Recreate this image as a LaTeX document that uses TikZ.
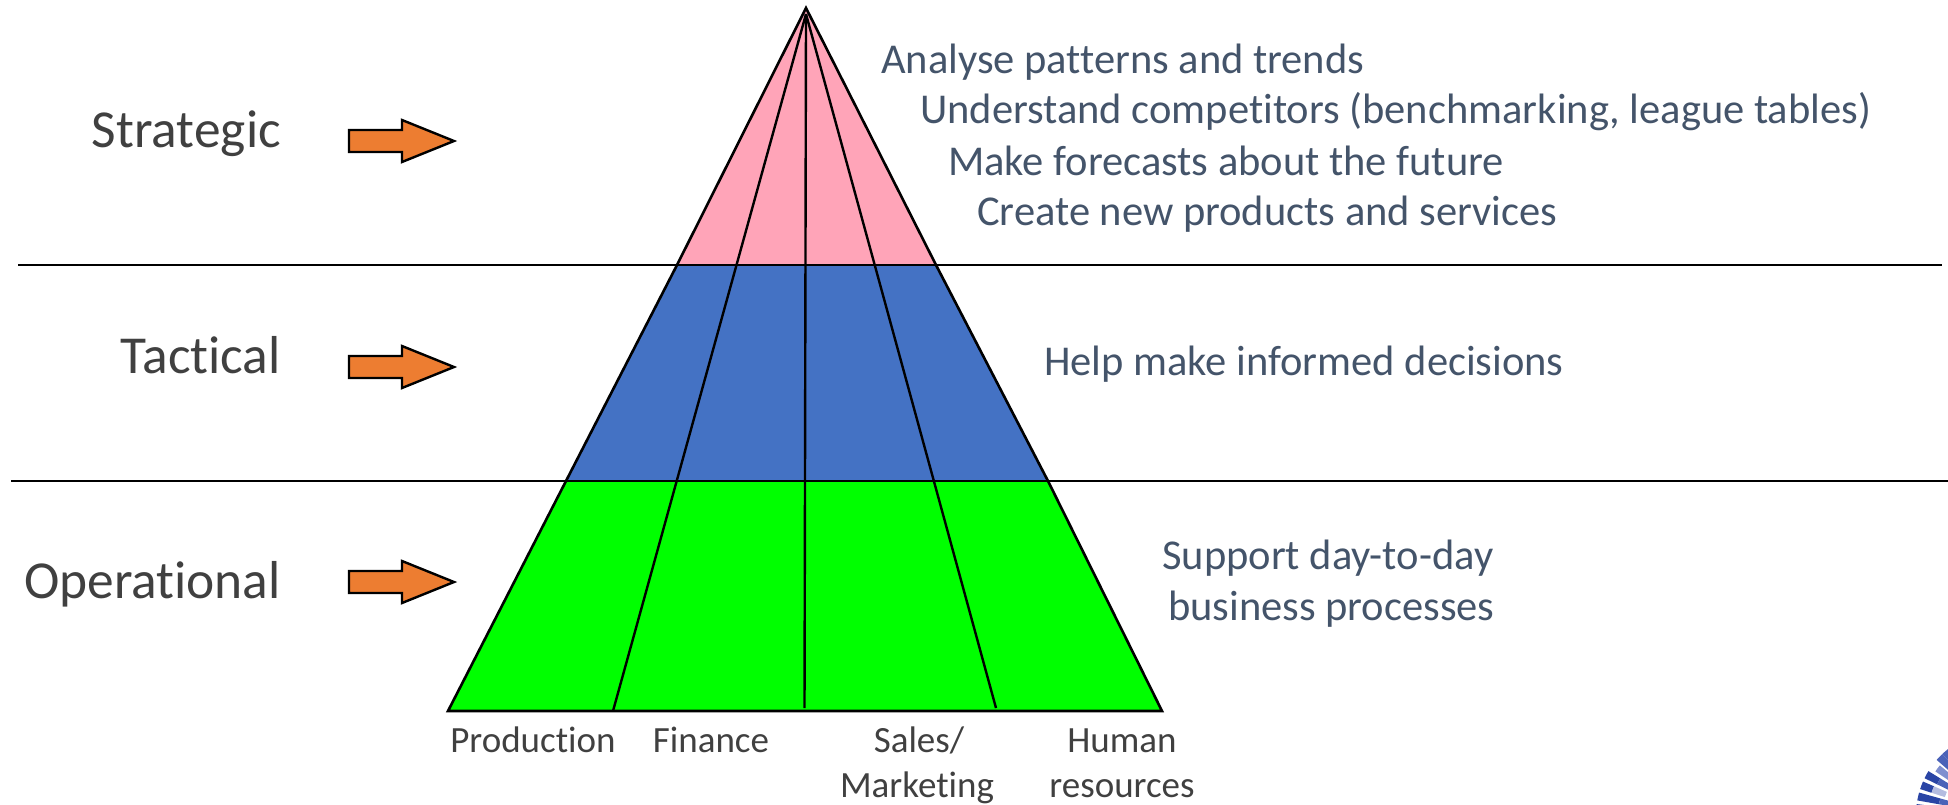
\documentclass[tikz,border=0pt]{standalone}
\usepackage{fontspec}
\setmainfont{Carlito}[Ligatures=NoCommon]
\definecolor{rhs}{HTML}{44546A}
\definecolor{lab}{HTML}{404040}
\definecolor{pinkp}{HTML}{FFA4B8}
\definecolor{bluep}{HTML}{4472C4}
\definecolor{greenp}{HTML}{00FF00}
\definecolor{orangep}{HTML}{ED7D31}
\definecolor{lgA}{HTML}{2A45A5}
\definecolor{lgB}{HTML}{B4BCE0}
\definecolor{lgC}{HTML}{4A62B8}
\definecolor{lgD}{HTML}{7F8FCF}
\tikzset{
  levellabel/.style={anchor=base east,text=lab,font=\fontsize{53.4}{60}\selectfont,inner sep=0pt},
  rhstext/.style={anchor=base west,text=rhs,font=\fontsize{42.5}{48}\selectfont,inner sep=0pt},
  dept/.style={anchor=base,text=lab,font=\fontsize{37}{44}\selectfont,inner sep=0pt},
  outline/.style={draw=black,line width=2.6pt,line join=miter},
  divider/.style={draw=black,line width=2.4pt},
  rule/.style={draw=black,line width=2.8pt},
  lvlarrow/.style={fill=orangep,draw=black,line width=2.4pt,line join=miter}
}
\newcommand{\lvlarrowat}[1]{\path[lvlarrow] (349,#1-11) -- (402,#1-11) -- (402,#1-21) -- (454,#1) -- (402,#1+21) -- (402,#1+11) -- (349,#1+11) -- cycle;}
\newcommand{\logowedge}[4]{\fill[#4] (2000,815) ++(-#1:#2) arc[start angle=-#1,end angle=-#1+5.5,radius=#2] -- ++(-#1+5.5:-#3) arc[start angle=-#1+5.5,end angle=-#1,radius=#2-#3] -- cycle;}
\begin{document}
\begin{tikzpicture}[x=1pt,y=-1pt]
\useasboundingbox (0,0) rectangle (1948,804);
% pyramid bands
\fill[pinkp] (806,8) -- (936,265) -- (677,265) -- cycle;
\fill[bluep] (677,265) -- (936,265) -- (1048,481) -- (566,481) -- cycle;
\fill[greenp] (566,481) -- (1048,481) -- (1162,711) -- (448,711) -- cycle;
% dividers
\draw[divider] (806,14) -- (613,711);
\draw[divider] (806,14) -- (804.5,708);
\draw[divider] (806,14) -- (996,708);
% outline
\draw[outline] (806,8) -- (936,265) -- (1048,481) -- (1162,711) -- (448,711) -- (566,481) -- (677,265) -- cycle;
% rules
\draw[rule] (18,265) -- (1942,265);
\draw[rule] (11,481) -- (1948,481);
% arrows
\lvlarrowat{141}
\lvlarrowat{367}
\lvlarrowat{582}
% level labels
\node[levellabel] (strategic) at (281,147) {Strategic};
\node[levellabel] (tactical) at (281,373) {Tactical};
\node[levellabel] (operational) at (281,598) {Operational};
% right text
\node[rhstext] (t1) at (881,73) {Analyse patterns and trends};
\node[rhstext] (t2) at (920,123) {Understand competitors (benchmarking, league tables)};
\node[rhstext] (t3) at (948,175) {Make forecasts about the future};
\node[rhstext] (t4) at (977,225) {Create new products and services};
\node[rhstext] (t5) at (1044,375) {Help make informed decisions};
\node[rhstext] (t6) at (1162,569) {Support day-to-day};
\node[rhstext] (t7) at (1168,620) {business processes};
% departments
\node[dept] (d1) at (533,752) {Production};
\node[dept] (d2) at (711,752) {Finance};
\node[dept] (d3a) at (919,752) {Sales/};
\node[dept] (d3b) at (917,797) {Marketing};
\node[dept] (d4a) at (1122,752) {Human};
\node[dept] (d4b) at (1122,797) {resources};
% logo corner
\begin{scope}
\clip (1900,740) rectangle (1948,804);
\logowedge{178}{84}{22}{lgA}
\logowedge{170}{84}{22}{lgA}
\logowedge{170}{62}{10}{lgC}
\logowedge{162}{84}{12}{lgA}
\logowedge{162}{72}{14}{lgB}
\logowedge{154}{84}{14}{lgA}
\logowedge{154}{70}{14}{lgC}
\logowedge{146}{78}{20}{lgD}
\logowedge{139}{84}{26}{lgC}
\logowedge{133.5}{84}{26}{lgC}
\logowedge{128}{84}{26}{lgD}
\end{scope}
\end{tikzpicture}
\end{document}
